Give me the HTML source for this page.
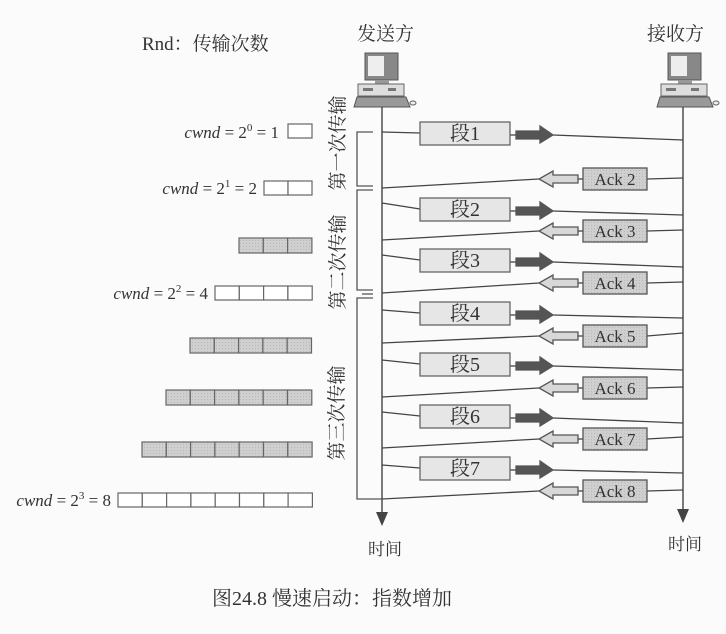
<!DOCTYPE html>
<html><head><meta charset="utf-8"><style>
html,body{margin:0;padding:0;background:#fbfbfb;}
svg{display:block;}
text{font-family:"Liberation Serif","Noto Serif CJK SC",serif;fill:#333;}
.cj{font-family:"Liberation Serif","Noto Serif CJK SC","Noto Sans CJK SC",serif;}
</style></head><body>
<svg width="726" height="634" viewBox="0 0 726 634" xmlns="http://www.w3.org/2000/svg">
<defs>
<pattern id="dots" width="3" height="3" patternUnits="userSpaceOnUse"><rect width="3" height="3" fill="#cfcfcf"/><rect width="1" height="1" fill="#b8b8b8"/></pattern>
<g id="pc">
 <rect x="7" y="0" width="33" height="27" fill="#888" stroke="#555"/>
 <rect x="10" y="3" width="16" height="20" fill="#eee"/>
 <rect x="17" y="27" width="14" height="4" fill="#999"/>
 <rect x="0" y="31" width="46" height="12" fill="#ddd" stroke="#666"/>
 <rect x="5" y="35" width="10" height="3" fill="#777"/>
 <rect x="30" y="35" width="8" height="3" fill="#777"/>
 <polygon points="-4,54 -1,44 48,44 52,54" fill="#999" stroke="#555"/>
 <ellipse cx="55" cy="50" rx="3" ry="2" fill="#eee" stroke="#666"/>
</g>
</defs>

<text x="142" y="50" font-size="19" class="cj">Rnd：传输次数</text>
<text x="357" y="40" font-size="19" class="cj">发送方</text>
<text x="647" y="40" font-size="19" class="cj">接收方</text>

<use href="#pc" x="358" y="53"/>
<use href="#pc" x="661" y="53"/>

<g stroke="#444" stroke-width="1.4" fill="none">
 <line x1="382" y1="107" x2="382" y2="515"/>
 <line x1="683" y1="107" x2="683" y2="512"/>
</g>
<polygon points="376,512 388,512 382,526" fill="#444"/>
<polygon points="677,509 689,509 683,523" fill="#444"/>

<g stroke="#555" stroke-width="1.3" fill="none">
 <polyline points="373,132 357,132 357,186 373,186"/>
 <polyline points="373,190 357,190 357,290 373,290"/>
 <line x1="362" y1="294" x2="373" y2="294"/>
 <polyline points="373,298 357,298 357,499 382,499"/>
</g>

<g font-size="19" class="cj">
 <text transform="translate(344,143) rotate(-90)" text-anchor="middle">第一次传输</text>
 <text transform="translate(344,262) rotate(-90)" text-anchor="middle">第二次传输</text>
 <text transform="translate(343,413) rotate(-90)" text-anchor="middle">第三次传输</text>
</g>

<g font-size="17" font-style="italic">
 <text x="279" y="138" text-anchor="end"><tspan>cwnd</tspan><tspan font-style="normal"> = 2</tspan><tspan font-style="normal" font-size="11" dy="-7">0</tspan><tspan font-style="normal" dy="7"> = 1</tspan></text>
 <text x="257" y="194" text-anchor="end"><tspan>cwnd</tspan><tspan font-style="normal"> = 2</tspan><tspan font-style="normal" font-size="11" dy="-7">1</tspan><tspan font-style="normal" dy="7"> = 2</tspan></text>
 <text x="208" y="299" text-anchor="end"><tspan>cwnd</tspan><tspan font-style="normal"> = 2</tspan><tspan font-style="normal" font-size="11" dy="-7">2</tspan><tspan font-style="normal" dy="7"> = 4</tspan></text>
 <text x="111" y="506" text-anchor="end"><tspan>cwnd</tspan><tspan font-style="normal"> = 2</tspan><tspan font-style="normal" font-size="11" dy="-7">3</tspan><tspan font-style="normal" dy="7"> = 8</tspan></text>
</g>

<g stroke="#666" stroke-width="1.2">
 <rect x="288" y="124" width="24" height="14" fill="#fff"/>
 <g fill="#fff"><rect x="264" y="181" width="24" height="14"/><rect x="288" y="181" width="24" height="14"/></g>
 <g fill="url(#dots)"><rect x="239" y="238" width="24.3" height="15"/><rect x="263.3" y="238" width="24.3" height="15"/><rect x="287.6" y="238" width="24.3" height="15"/></g>
 <g fill="#fff"><rect x="215" y="286" width="24.3" height="14"/><rect x="239.3" y="286" width="24.3" height="14"/><rect x="263.6" y="286" width="24.3" height="14"/><rect x="287.9" y="286" width="24.3" height="14"/></g>
 <g fill="url(#dots)">
  <rect x="190" y="338" width="24.3" height="15"/><rect x="214.3" y="338" width="24.3" height="15"/><rect x="238.6" y="338" width="24.3" height="15"/><rect x="262.9" y="338" width="24.3" height="15"/><rect x="287.2" y="338" width="24.3" height="15"/>
  <rect x="166" y="390" width="24.3" height="15"/><rect x="190.3" y="390" width="24.3" height="15"/><rect x="214.6" y="390" width="24.3" height="15"/><rect x="238.9" y="390" width="24.3" height="15"/><rect x="263.2" y="390" width="24.3" height="15"/><rect x="287.5" y="390" width="24.3" height="15"/>
  <rect x="142" y="442" width="24.3" height="15"/><rect x="166.3" y="442" width="24.3" height="15"/><rect x="190.6" y="442" width="24.3" height="15"/><rect x="214.9" y="442" width="24.3" height="15"/><rect x="239.2" y="442" width="24.3" height="15"/><rect x="263.5" y="442" width="24.3" height="15"/><rect x="287.8" y="442" width="24.3" height="15"/>
 </g>
 <g fill="#fff">
  <rect x="118" y="493" width="24.3" height="14"/><rect x="142.3" y="493" width="24.3" height="14"/><rect x="166.6" y="493" width="24.3" height="14"/><rect x="190.9" y="493" width="24.3" height="14"/><rect x="215.2" y="493" width="24.3" height="14"/><rect x="239.5" y="493" width="24.3" height="14"/><rect x="263.8" y="493" width="24.3" height="14"/><rect x="288.1" y="493" width="24.3" height="14"/>
 </g>
</g>

<g stroke="#444" stroke-width="1.3">
 <g transform="translate(0,133)">
  <line x1="382" y1="-1" x2="420" y2="0"/><line x1="553" y1="2" x2="683" y2="7"/><line x1="510" y1="2" x2="516" y2="2"/>
  <rect x="420" y="-11" width="90" height="23" fill="#e6e6e6" stroke="#666"/>
  <polygon points="516,-2 540,-2 540,-7 553,2 540,10 540,6 516,6" fill="#555" stroke="#555"/>
 </g>
 <g transform="translate(0,209)">
  <line x1="382" y1="-6" x2="420" y2="0"/><line x1="553" y1="2" x2="683" y2="6"/><line x1="510" y1="2" x2="516" y2="2"/>
  <rect x="420" y="-11" width="90" height="23" fill="#e6e6e6" stroke="#666"/>
  <polygon points="516,-2 540,-2 540,-7 553,2 540,10 540,6 516,6" fill="#555" stroke="#555"/>
 </g>
 <g transform="translate(0,260)">
  <line x1="382" y1="-5" x2="420" y2="0"/><line x1="553" y1="2" x2="683" y2="7"/><line x1="510" y1="2" x2="516" y2="2"/>
  <rect x="420" y="-11" width="90" height="23" fill="#e6e6e6" stroke="#666"/>
  <polygon points="516,-2 540,-2 540,-7 553,2 540,10 540,6 516,6" fill="#555" stroke="#555"/>
 </g>
 <g transform="translate(0,313)">
  <line x1="382" y1="-3" x2="420" y2="0"/><line x1="553" y1="2" x2="683" y2="5"/><line x1="510" y1="2" x2="516" y2="2"/>
  <rect x="420" y="-11" width="90" height="23" fill="#e6e6e6" stroke="#666"/>
  <polygon points="516,-2 540,-2 540,-7 553,2 540,10 540,6 516,6" fill="#555" stroke="#555"/>
 </g>
 <g transform="translate(0,364)">
  <line x1="382" y1="-4" x2="420" y2="0"/><line x1="553" y1="2" x2="683" y2="6"/><line x1="510" y1="2" x2="516" y2="2"/>
  <rect x="420" y="-11" width="90" height="23" fill="#e6e6e6" stroke="#666"/>
  <polygon points="516,-2 540,-2 540,-7 553,2 540,10 540,6 516,6" fill="#555" stroke="#555"/>
 </g>
 <g transform="translate(0,416)">
  <line x1="382" y1="-4" x2="420" y2="0"/><line x1="553" y1="2" x2="683" y2="7"/><line x1="510" y1="2" x2="516" y2="2"/>
  <rect x="420" y="-11" width="90" height="23" fill="#e6e6e6" stroke="#666"/>
  <polygon points="516,-2 540,-2 540,-7 553,2 540,10 540,6 516,6" fill="#555" stroke="#555"/>
 </g>
 <g transform="translate(0,468)">
  <line x1="382" y1="-3" x2="420" y2="0"/><line x1="553" y1="2" x2="683" y2="5"/><line x1="510" y1="2" x2="516" y2="2"/>
  <rect x="420" y="-11" width="90" height="23" fill="#e6e6e6" stroke="#666"/>
  <polygon points="516,-2 540,-2 540,-7 553,2 540,10 540,6 516,6" fill="#555" stroke="#555"/>
 </g>
</g>
<g font-size="20" class="cj" text-anchor="middle">
 <text x="465" y="140">段1</text><text x="465" y="216">段2</text><text x="465" y="267">段3</text>
 <text x="465" y="320">段4</text><text x="465" y="371">段5</text><text x="465" y="423">段6</text><text x="465" y="475">段7</text>
</g>

<g stroke="#444" stroke-width="1.3">
 <g transform="translate(0,179)">
  <line x1="683" y1="-1" x2="647" y2="0"/><line x1="539" y1="0" x2="382" y2="9"/><line x1="578" y1="0" x2="583" y2="0"/>
  <rect x="583" y="-11" width="64" height="22" fill="url(#dots)" stroke="#555"/>
  <polygon points="578,-4 553,-4 553,-8 539,0 553,8 553,4 578,4" fill="#d8d8d8" stroke="#555"/>
 </g>
 <g transform="translate(0,231)">
  <line x1="683" y1="-1" x2="647" y2="0"/><line x1="539" y1="0" x2="382" y2="9"/><line x1="578" y1="0" x2="583" y2="0"/>
  <rect x="583" y="-11" width="64" height="22" fill="url(#dots)" stroke="#555"/>
  <polygon points="578,-4 553,-4 553,-8 539,0 553,8 553,4 578,4" fill="#d8d8d8" stroke="#555"/>
 </g>
 <g transform="translate(0,283)">
  <line x1="683" y1="-1" x2="647" y2="0"/><line x1="539" y1="0" x2="382" y2="10"/><line x1="578" y1="0" x2="583" y2="0"/>
  <rect x="583" y="-11" width="64" height="22" fill="url(#dots)" stroke="#555"/>
  <polygon points="578,-4 553,-4 553,-8 539,0 553,8 553,4 578,4" fill="#d8d8d8" stroke="#555"/>
 </g>
 <g transform="translate(0,336)">
  <line x1="683" y1="-3" x2="647" y2="0"/><line x1="539" y1="0" x2="382" y2="7"/><line x1="578" y1="0" x2="583" y2="0"/>
  <rect x="583" y="-11" width="64" height="22" fill="url(#dots)" stroke="#555"/>
  <polygon points="578,-4 553,-4 553,-8 539,0 553,8 553,4 578,4" fill="#d8d8d8" stroke="#555"/>
 </g>
 <g transform="translate(0,388)">
  <line x1="683" y1="-1" x2="647" y2="0"/><line x1="539" y1="0" x2="382" y2="9"/><line x1="578" y1="0" x2="583" y2="0"/>
  <rect x="583" y="-11" width="64" height="22" fill="url(#dots)" stroke="#555"/>
  <polygon points="578,-4 553,-4 553,-8 539,0 553,8 553,4 578,4" fill="#d8d8d8" stroke="#555"/>
 </g>
 <g transform="translate(0,439)">
  <line x1="683" y1="-2" x2="647" y2="0"/><line x1="539" y1="0" x2="382" y2="9"/><line x1="578" y1="0" x2="583" y2="0"/>
  <rect x="583" y="-11" width="64" height="22" fill="url(#dots)" stroke="#555"/>
  <polygon points="578,-4 553,-4 553,-8 539,0 553,8 553,4 578,4" fill="#d8d8d8" stroke="#555"/>
 </g>
 <g transform="translate(0,491)">
  <line x1="683" y1="-1" x2="647" y2="0"/><line x1="539" y1="0" x2="382" y2="8"/><line x1="578" y1="0" x2="583" y2="0"/>
  <rect x="583" y="-11" width="64" height="22" fill="url(#dots)" stroke="#555"/>
  <polygon points="578,-4 553,-4 553,-8 539,0 553,8 553,4 578,4" fill="#d8d8d8" stroke="#555"/>
 </g>
</g>
<g font-size="17" text-anchor="middle">
 <text x="615" y="185">Ack 2</text><text x="615" y="237">Ack 3</text><text x="615" y="289">Ack 4</text>
 <text x="615" y="342">Ack 5</text><text x="615" y="394">Ack 6</text><text x="615" y="445">Ack 7</text><text x="615" y="497">Ack 8</text>
</g>

<text x="385" y="555" font-size="17" class="cj" text-anchor="middle">时间</text>
<text x="685" y="550" font-size="17" class="cj" text-anchor="middle">时间</text>
<text x="212" y="605" font-size="20" class="cj">图24.8  慢速启动：指数增加</text>
</svg>
</body></html>
